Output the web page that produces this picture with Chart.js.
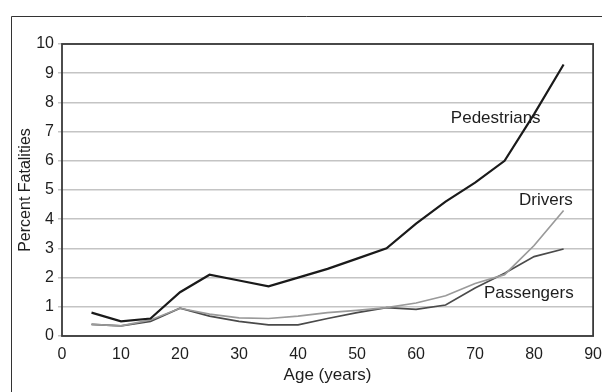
<!DOCTYPE html>
<html>
<head>
<meta charset="utf-8">
<script src="https://cdn.jsdelivr.net/npm/chart.js@4/dist/chart.umd.min.js"></script>
<style>
  html, body { margin: 0; padding: 0; background: #fff; }
  #wrap { width: 602px; height: 392px; position: relative; }
</style>
</head>
<body>
<div id="wrap"><canvas id="fatalityChart"></canvas></div>
<script>
const ages = [5, 10, 15, 20, 25, 30, 35, 40, 45, 50, 55, 60, 65, 70, 75, 80, 85];
const pedestrians = [0.8, 0.5, 0.6, 1.5, 2.1, 1.9, 1.7, 2.0, 2.3, 2.65, 3.0, 3.85, 4.6, 5.25, 6.0, 7.6, 9.3];
const drivers = [0.4, 0.35, 0.55, 0.95, 0.75, 0.62, 0.6, 0.68, 0.8, 0.88, 0.97, 1.13, 1.38, 1.8, 2.1, 3.1, 4.3];
const passengers = [0.4, 0.35, 0.5, 0.95, 0.68, 0.5, 0.38, 0.38, 0.6, 0.8, 0.97, 0.91, 1.06, 1.64, 2.15, 2.72, 2.98];

const seriesLabels = [
  { text: 'Pedestrians', x: 73.5, y: 7.47 },
  { text: 'Drivers', x: 82.0, y: 4.66 },
  { text: 'Passengers', x: 79.1, y: 1.47 }
];

const FONT = "'Liberation Sans', Arial, sans-serif";
const toPoints = values => ages.map((a, i) => ({ x: a, y: values[i] }));

const framePlugin = {
  id: 'frame',
  beforeDraw(chart) {
    const ctx = chart.ctx;
    ctx.save();
    ctx.strokeStyle = '#333';
    ctx.lineWidth = 1;
    ctx.beginPath();
    ctx.moveTo(11.5, 392);
    ctx.lineTo(11.5, 16.5);
    ctx.lineTo(602, 16.5);
    ctx.stroke();
    ctx.restore();
  },
  afterDatasetsDraw(chart) {
    const { ctx, chartArea, scales } = chart;
    ctx.save();
    ctx.strokeStyle = '#3a3a3a';
    ctx.lineWidth = 1.8;
    ctx.strokeRect(chartArea.left, chartArea.top, chartArea.right - chartArea.left, chartArea.bottom - chartArea.top);
    ctx.fillStyle = '#1e1e1e';
    ctx.font = '17px ' + FONT;
    ctx.textAlign = 'center';
    ctx.textBaseline = 'middle';
    seriesLabels.forEach(l => {
      ctx.fillText(l.text, scales.x.getPixelForValue(l.x), scales.y.getPixelForValue(l.y));
    });
    ctx.restore();
  }
};

new Chart(document.getElementById('fatalityChart'), {
  type: 'line',
  data: {
    datasets: [
      {
        label: 'Pedestrians',
        data: toPoints(pedestrians),
        borderColor: '#1a1a1a',
        borderWidth: 2.2,
        pointRadius: 0,
        tension: 0
      },
      {
        label: 'Drivers',
        data: toPoints(drivers),
        borderColor: '#9a9a9a',
        borderWidth: 1.7,
        pointRadius: 0,
        tension: 0
      },
      {
        label: 'Passengers',
        data: toPoints(passengers),
        borderColor: '#4a4a4a',
        borderWidth: 1.7,
        pointRadius: 0,
        tension: 0
      }
    ]
  },
  options: {
    responsive: true,
    maintainAspectRatio: false,
    animation: false,
    layout: { padding: { left: 0, top: 44, right: 4, bottom: 0 } },
    plugins: {
      legend: { display: false },
      tooltip: { enabled: false }
    },
    scales: {
      x: {
        type: 'linear',
        min: 0,
        max: 90,
        ticks: { stepSize: 10, padding: 0, color: '#1e1e1e', font: { family: FONT, size: 16 } },
        // grid hidden; tick length only used to push the labels down
        grid: { display: false, drawTicks: true, tickLength: 9 },
        border: { display: false },
        title: {
          display: true,
          text: 'Age (years)',
          color: '#1e1e1e',
          font: { family: FONT, size: 17 },
          padding: { top: 0, bottom: 6 }
        },
        afterFit(scale) { scale.height = 56; }
      },
      y: {
        min: 0,
        max: 10,
        ticks: { stepSize: 1, padding: 4, color: '#1e1e1e', font: { family: FONT, size: 16 } },
        grid: { color: '#c4c4c4', lineWidth: 1.5, tickLength: 4 },
        border: { display: false },
        title: {
          display: true,
          text: 'Percent Fatalities',
          color: '#1e1e1e',
          font: { family: FONT, size: 16 },
          padding: { top: 16, bottom: 0 }
        },
        afterFit(scale) { scale.width = 62; }
      }
    }
  },
  plugins: [framePlugin]
});
</script>
</body>
</html>
